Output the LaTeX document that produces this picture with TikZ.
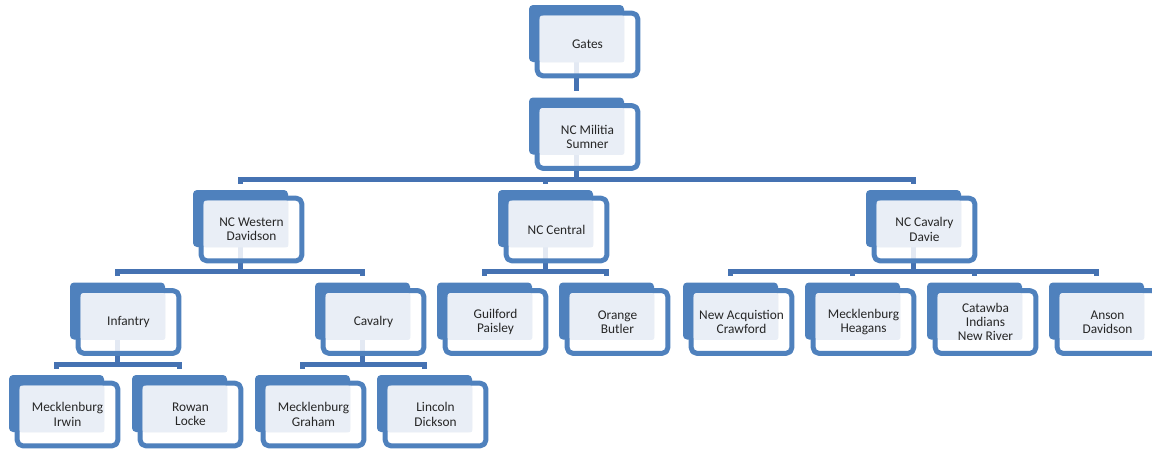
\documentclass[tikz,border=0pt]{standalone}
\usepackage{fontspec}
\setmainfont{Carlito}
\usetikzlibrary{backgrounds}
\definecolor{boxblue}{RGB}{79,129,189}
\definecolor{linkblue}{RGB}{69,114,178}
\definecolor{paleblue}{RGB}{233,238,246}
\begin{document}
\begin{tikzpicture}[x=0.75pt,y=-0.75pt,line join=round,font=\fontsize{10}{10.8}\selectfont,
		unitback/.style={fill=boxblue,rounded corners=3pt,inner sep=0pt,minimum width=71.25pt,minimum height=42.75pt},
		unitframe/.style={draw=boxblue,line width=3.75pt,fill=white,fill opacity=0.85,rounded corners=4pt},
		unitfill/.style={fill=paleblue,rounded corners=1.5pt},
		unittext/.style={align=center,text=black!85,inner sep=0pt},
		link/.style={draw=linkblue,line width=4pt,line join=miter}]
			\useasboundingbox (0,0) rectangle (1152,451);
			\foreach \n/\x/\y/\txt in {
				gates/576.5/33.5/Gates,
				militia/576.5/126/NC Militia\\Sumner,
				western/240.5/218.5/NC Western\\Davidson,
				central/545.5/218.5/NC Central,
				cavdavie/913.5/218.5/NC Cavalry\\Davie,
				infantry/117.5/311/Infantry,
				cavalry/362.5/311/Cavalry,
				guilford/484.5/311/Guilford\\Paisley,
				orange/606.5/311/Orange\\Butler,
				crawford/730.5/311/New Acquistion\\Crawford,
				heagans/852.5/311/Mecklenburg\\Heagans,
				catawba/974.5/311/Catawba\\Indians\\New River,
				anson/1096.5/311/Anson\\Davidson,
				irwin/56.5/403.5/Mecklenburg\\Irwin,
				rowan/179.5/403.5/Rowan\\Locke,
				graham/302.5/403.5/Mecklenburg\\Graham,
				dickson/424.5/403.5/Lincoln\\Dickson}{
				\node[unitback] (\n) at (\x,\y) {};
				\path[unitframe] ([shift={(8.5,8.5)}]\n.north west) rectangle ([shift={(13.5,13.5)}]\n.south east);
				\fill[unitfill] ([shift={(11,11)}]\n.north west) rectangle (\n.south east);
				\node[unittext] (\n-txt) at ([shift={(11,11)}]\n.center) {\txt};
			}
			\begin{scope}[on background layer]
				\foreach \p/\c in {gates/militia,militia/western,militia/central,militia/cavdavie,
					western/infantry,western/cavalry,central/guilford,central/orange,
					cavdavie/crawford,cavdavie/heagans,cavdavie/catawba,cavdavie/anson,
					infantry/irwin,infantry/rowan,cavalry/graham,cavalry/dickson}
					\draw[link] (\p.south) -- ++(0,24.5) -| ([shift={(0,-6)}]\c.north);
			\end{scope}
\end{tikzpicture}
\end{document}
